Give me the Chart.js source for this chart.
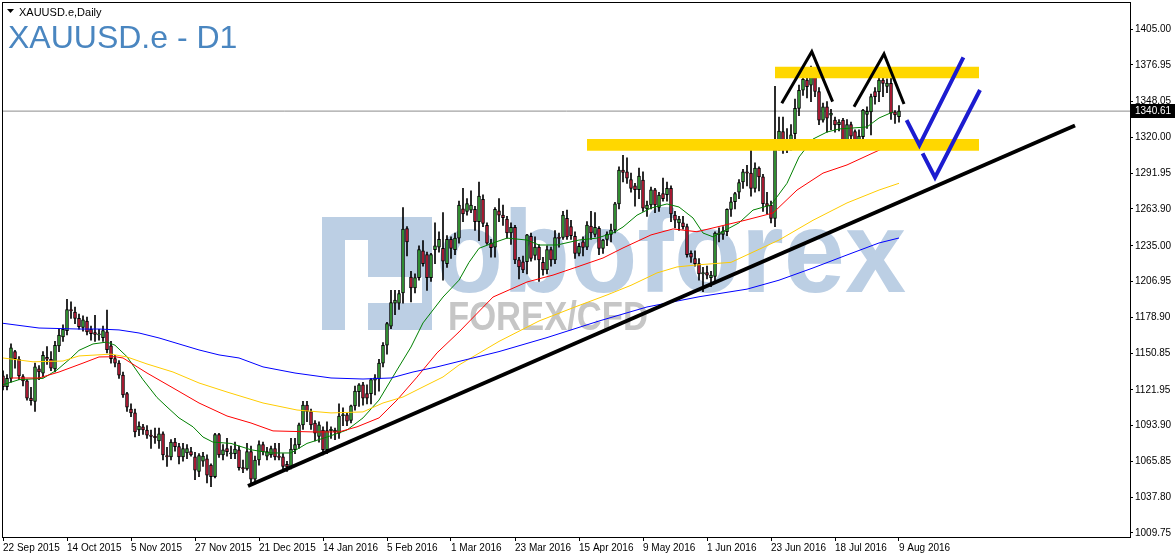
<!DOCTYPE html>
<html>
<head>
<meta charset="utf-8">
<title>XAUUSD.e - D1</title>
<script src="https://cdn.jsdelivr.net/npm/chart.js@4.4.1/dist/chart.umd.min.js"></script>
<style>
    html, body { margin: 0; padding: 0; background: #ffffff; }
    #wrap { position: relative; width: 1175px; height: 558px; }
</style>
</head>
<body>
<div id="wrap"><canvas id="goldChart" width="1175" height="558"></canvas></div>
<script>
// ==========================================
// 1. DATA
// ==========================================

// x-axis: one label every 16 bars, starting at bar 0
const dateTicks = ['22 Sep 2015', '14 Oct 2015', '5 Nov 2015', '27 Nov 2015', '21 Dec 2015', '14 Jan 2016',
    '5 Feb 2016', '1 Mar 2016', '23 Mar 2016', '15 Apr 2016', '9 May 2016', '1 Jun 2016',
    '23 Jun 2016', '18 Jul 2016', '9 Aug 2016'];
const barsPerTick = 16;

// y-axis tick labels
const priceTicks = [1009.75, 1037.80, 1065.85, 1093.90, 1121.95, 1150.85, 1178.90, 1206.95,
    1235.00, 1263.90, 1291.95, 1320.00, 1348.05, 1376.95, 1405.00];

// daily candles
const opens = [1133,1124.5,1131,1152,1146,1132.5,1129,1115.5,1113,1138.5,1135,1147.5,1146,1138.5,1156.5,1163.5,
    1168.5,1185,1183,1178,1171,1176,1169.5,1167,1165,1163,1167.5,1156.5,1146.5,1143,1133.5,1119,
    1107,1104,1090.5,1093,1090.5,1086.5,1085.5,1082,1087.5,1070.5,1069.5,1081,1077.5,1069.5,1072.5,1073.5,
    1069.5,1058,1066,1068,1063,1054,1087,1071,1076,1072,1072,1075,1061,1060,1073.5,1052,
    1067,1079,1070,1071,1076,1070,1069.5,1063.5,1061.5,1075,1079,1094.5,1110,1105,1096,1085.5,
    1090.5,1075,1090,1089,1088,1102,1102.5,1098,1109.5,1120.5,1126,1119,1119,1129.5,1130.5,1143,
    1157,1172,1190,1190,1198,1248.5,1210.5,1202,1210,1231,1228,1210,1232,1234,1233,1221,
    1240,1232,1241,1264,1262,1263,1263.5,1254,1271.5,1251,1237,1234,1262.5,1259,1256,1245,
    1249.5,1224,1222.5,1222.5,1242.5,1227.5,1234,1222,1216,1232,1224,1241.5,1241.5,1256.5,1250,1242.5,
    1229,1238,1234,1250.5,1244,1248.7,1233,1240,1244,1247.4,1267.8,1294.4,1293,1287,1282,1279,
    1286.6,1264,1267,1278.8,1265,1276,1275,1280,1259,1253,1253,1250,1229,1225,1221,1213,
    1214,1210,1211,1245,1244,1246,1263.5,1269.5,1277,1285,1293,1292,1280,1296,1289,1268,
    1267,1256.5,1318,1324.5,1313,1317,1323,1342.8,1357,1365,1361,1369,1356,1333.6,1344,1337.5,
    1333.6,1330,1333.6,1317,1330,1324.5,1316.6,1320.6,1338,1340,1355.9,1355.9,1365,1360,1362.4,1340,
    1336.2];
const highs = [1137,1134,1158,1153,1148,1134,1130,1124,1143,1141,1152,1156,1152,1160,1169.5,1173,
    1193,1191,1187,1181.5,1180,1179,1172,1180.5,1169.5,1172,1184.5,1160,1149,1145,1136,1120,
    1111,1107,1097,1095,1094,1090.5,1092,1092,1089,1077,1083,1084,1080,1080,1079,1077,
    1073,1072,1073,1071,1064,1088,1088,1079,1084,1078,1081,1078,1067,1080,1078,1070,
    1082,1081,1077,1078,1080,1080,1072,1066,1084,1084,1096,1113,1113,1107,1098,1097,
    1093,1097,1093,1092,1111,1108,1104,1110,1125,1127,1128,1126,1131,1134,1146,1159,
    1175,1200,1200,1200,1265,1250,1215,1213,1235,1239,1230,1229,1253,1246,1261,1243,
    1242,1245,1270,1280,1272,1278,1266,1285,1275,1253,1240,1265,1272,1267,1258,1253,
    1251,1226,1227,1244,1245,1242,1236,1226,1235,1234,1247,1245,1262,1263,1255,1246,
    1237,1242,1254,1262,1261,1250,1240,1246,1252,1269,1297,1306,1304,1292,1284,1296,
    1293,1270,1281,1280,1277,1288,1285,1282,1262,1258,1258,1252,1231,1231,1225,1218,
    1219,1215,1246,1249,1250,1264,1273,1277,1287,1295,1298,1316,1300,1297,1291,1277,
    1270,1360,1336,1336,1327,1330,1350,1361,1374,1368,1376,1372,1359,1347,1348,1342,
    1336,1334,1335,1334,1332,1326,1326,1342,1344,1354,1359,1369,1367,1366,1367,1341,
    1345];
const lows = [1122,1122,1128,1139,1130,1125,1114,1110,1105,1130,1132,1142,1137,1136,1152,1160,
    1165,1178,1174,1169.5,1168,1165,1161,1160,1161,1160,1151,1143,1140,1131,1116,1105,
    1101,1085,1086,1087,1084,1076,1080,1076,1067,1062,1067,1074,1064,1066,1068,1070,
    1051.5,1054,1062,1049,1046,1053,1069,1067,1070,1068,1068,1059,1057,1059,1047,1050,
    1063,1071,1067,1069,1067,1067,1060,1058,1060,1072,1076,1091,1097,1091,1082,1081,
    1071,1072,1084,1083,1084,1094,1094,1096,1106,1109,1110,1111,1111,1118,1121,1140,
    1150,1170,1181,1185,1190,1227,1191,1198,1208,1219,1200,1207,1221,1230,1208,1218,
    1225,1228,1237,1254,1259,1261,1247,1239,1250,1236,1226,1226,1254,1251,1241,1236,
    1221,1209,1214,1213,1223,1224,1207,1212,1213,1219,1221,1234,1240,1240,1240,1225,
    1227,1227,1232,1240,1242,1228,1229,1235,1238,1245,1264,1285,1284,1277,1266,1272,
    1262,1258,1264,1261,1262,1270,1270,1254,1249,1247,1248,1226,1222,1219,1208,1199,
    1209,1203,1206,1238,1240,1243,1258,1264,1272,1280,1282,1274,1277,1278,1262,1260,
    1253,1250,1310,1307.5,1308,1310,1319,1337,1353,1351,1348,1352,1330,1332,1324,1326,
    1324,1325,1311,1314,1314,1313,1313,1312,1327,1322,1346,1348,1352,1355,1334,1331,
    1332];
const closes = [1124.5,1131,1155,1146.5,1133,1129,1115.5,1113.5,1140,1136,1149,1146,1139,1157,1165,1169.5,
    1185,1184,1178,1171.5,1177,1167.5,1166,1165.5,1166,1168.5,1153.5,1146.5,1143,1133.5,1118,1108.5,
    1104,1089,1093.5,1090.5,1086.5,1085.5,1084.5,1087.5,1071,1069.5,1081,1077.5,1069.5,1076,1076,1071,
    1059,1070.5,1070,1055,1054,1087,1071,1075,1073.5,1072.5,1075.5,1061,1060,1073.5,1052,1067,
    1079,1073.5,1073.5,1076,1069.5,1069,1062,1061.5,1075.5,1079,1094.5,1110,1105,1094.5,1088,1094.5,
    1075,1090,1091,1090.5,1101.5,1102.5,1097.5,1109.5,1121,1126,1115.5,1115.5,1130,1131.5,1143,1157,
    1174,1190.5,1192.5,1197.5,1248,1238,1202,1210,1232,1221,1210,1228,1235,1240,1223,1240,
    1233,1241,1267,1260,1268,1267,1254,1274,1252.5,1237,1233.5,1263.5,1259,1257,1245,1249.5,
    1224,1218.5,1216,1243.5,1225,1234,1224,1216,1232,1224,1241.5,1241,1259,1242,1243,1229,
    1234.5,1233.8,1251.3,1245,1249.5,1233,1239.5,1244,1247.4,1267.8,1294.4,1292.6,1288,1280,1279,1289.7,
    1264.4,1267,1278.8,1267,1274.8,1272,1280,1260,1255,1256,1250,1228,1226,1221,1213,1214,
    1212,1212,1245,1244,1246.5,1263.5,1269.5,1276,1284.5,1293,1292,1280,1296,1289,1268,1266,
    1256.5,1316.5,1325,1312.7,1317,1322,1342.8,1357,1365.5,1359.8,1367.6,1356,1333.6,1344,1335,1339,
    1329.7,1332,1316.6,1330,1321,1316.6,1321,1341.5,1340.5,1352,1352,1365,1362.4,1362.5,1338.9,1337.6,
    1340.61];

// moving averages, as [bar, price]
const maFast = [[0,1126],[4,1130],[10,1131],[13.5,1137.6],[17,1147],[19,1153],[22.5,1158],[26,1159.5],[28,1157],
    [31,1148],[35,1130],[38.5,1116],[41,1108.6],[44,1100],[47.5,1093],[50,1085],[52.5,1081],[57,1080],[62,1075],
    [67,1072.5],[72,1072.5],[76,1080],[81,1085],[86,1090.5],[90,1100],[94,1114],[98.5,1137.6],[102,1155.6],
    [105,1174.5],[110,1194.8],[114,1208],[116.5,1222],[119,1233],[122.5,1237.2],[126,1241],[131,1239.5],
    [134,1235.6],[138.5,1235.6],[144,1239.5],[148.5,1241],[152.5,1245],[155,1249.7],[158.5,1259],[162,1264.6],
    [166,1267.8],[169,1265.4],[172.5,1256.8],[175,1245],[177.5,1242],[184,1253],[187.5,1263],[192,1267],
    [196,1284],[199,1304.6],[202.5,1318.7],[206,1324.2],[209,1326.6],[212.5,1327.4],[216,1328.2],[219,1335.2],
    [222.5,1340]];
const maMid = [[2,1131.3],[9,1131.3],[14,1136],[20,1143],[24,1147.8],[28,1148],[30,1147],[36,1135.2],
    [42.5,1123.5],[49,1111.7],[56,1101.5],[62,1096],[67.5,1089.8],[77.5,1089],[84,1089],[88.5,1093],[94,1100],
    [98.5,1114],[103.5,1132],[108.5,1151],[114,1167.4],[122.5,1194.8],[131,1206.6],[137.5,1212],[143.5,1218.4],
    [150,1225.4],[155,1233.3],[162,1243.5],[167.5,1248.2],[173.5,1246],[185.5,1255],[192.5,1260.7],
    [198.5,1278.7],[205,1292],[211,1298.4],[217.5,1307.8],[224,1317]];
const maSlow = [[0,1147],[7.5,1144],[15,1144.6],[19,1148.6],[27,1150],[31,1147.8],[36,1142.3],[42.5,1136],
    [49,1127.4],[56,1120.3],[65,1111.7],[73.5,1106.2],[82,1103.9],[90,1104.7],[95,1111.7],[100,1116.4],
    [105,1124.3],[110,1132.1],[114,1141.5],[124,1160],[134,1176],[143,1187],[151,1196.4],[157,1204],
    [163.5,1213.7],[168.5,1218.4],[173.5,1220],[182,1222],[194,1239.5],[202.5,1255],[211,1268.6],
    [219,1278.7],[224,1284]];
const maLong = [[0,1174.2],[9,1170.5],[19,1169.7],[24,1169.7],[29,1169],[34,1166.6],[39,1162.7],[44,1158],
    [49,1153.3],[54,1149.4],[59,1147],[65,1140],[73,1135.2],[82,1131.3],[90,1130.5],[97,1131.3],[102.5,1136],
    [108.5,1140],[113.5,1143.9],[124,1152],[136,1163],[149,1176],[161,1187],[174,1195],[186,1201],[194,1208],
    [202.5,1217.6],[211,1227.8],[219,1237.2],[224,1241.1]];

// hand-drawn analysis objects, as [bar, price]
const trendLine = [[61.25, 1046.6], [268, 1329.3]];
const topLeft = [[194.7, 1346.7], [202.2, 1387.2], [207.4, 1348]];
const topRight = [[212.75, 1344.1], [220.25, 1385.4], [225.25, 1346.2]];
const checkUpper = [[225.9, 1333.6], [229.1, 1314], [240.1, 1382.8]];
const checkLower = [[229.9, 1307.5], [233, 1288.7], [244.25, 1357.2]];
// zones: [first bar, last bar, low, high]
const resistanceZone = [193, 244, 1366.3, 1375.4];
const supportZone = [146, 244, 1309.6, 1318.7];

const lastPrice = 1340.61;
const barsOnScreen = 281.75;

// ==========================================
// 2. HELPERS / PLUGINS
// ==========================================
const FONT = '"Liberation Sans", Arial, sans-serif';
const toPoints = arr => arr.map(p => ({ x: p[0], y: p[1] }));

function lineSet(points, color, width, order) {
    return {
        type: 'line', data: toPoints(points), borderColor: color, borderWidth: width,
        pointRadius: 0, fill: false, order: order, borderCapStyle: 'butt', borderJoinStyle: 'miter'
    };
}

function zoneSets(zone) {
    const top = [[zone[0], zone[3]], [zone[1], zone[3]]];
    const bottom = [[zone[0], zone[2]], [zone[1], zone[2]]];
    return [
        { type: 'line', data: toPoints(top), borderWidth: 0, pointRadius: 0, fill: false, order: 3 },
        { type: 'line', data: toPoints(bottom), borderWidth: 0, pointRadius: 0, fill: '-1',
          backgroundColor: '#ffd700', order: 3 }
    ];
}

const watermarkPlugin = {
    id: 'watermark',
    beforeDatasetsDraw(chart) {
        const ctx = chart.ctx;
        ctx.save();
        ctx.fillStyle = '#bccfe4';
        // logo block with the letter cut out
        ctx.fillRect(322, 217, 110, 113);
        ctx.fillStyle = '#ffffff';
        ctx.fillRect(345, 240, 23, 90);
        ctx.fillRect(368, 277, 54, 26);
        ctx.fillStyle = '#bccfe4';
        ctx.font = 'bold 116px ' + FONT;
        ctx.textBaseline = 'alphabetic';
        ctx.fillText('oboforex', 436, 292, 470);
        ctx.fillStyle = '#c6c6c6';
        ctx.font = 'bold 40px ' + FONT;
        ctx.fillText('FOREX/CFD', 448, 330, 200);
        ctx.restore();
    }
};

const framePlugin = {
    id: 'frame',
    afterDraw(chart) {
        const { ctx, chartArea, scales } = chart;
        ctx.save();
        // frame
        ctx.strokeStyle = '#000000';
        ctx.lineWidth = 1;
        ctx.strokeRect(chartArea.left - 0.5, chartArea.top - 0.5,
            chartArea.right - chartArea.left + 1, chartArea.bottom - chartArea.top + 1);

        // titles
        ctx.fillStyle = '#000000';
        ctx.beginPath();
        ctx.moveTo(7, 9); ctx.lineTo(14, 9); ctx.lineTo(10.5, 13); ctx.closePath();
        ctx.fill();
        ctx.font = '11px ' + FONT;
        ctx.textBaseline = 'alphabetic';
        ctx.fillText('XAUUSD.e,Daily', 19, 16);
        ctx.fillStyle = '#4a86c0';
        ctx.font = '32px ' + FONT;
        ctx.fillText('XAUUSD.e - D1', 8, 48);

        // last price tag
        const y = Math.round(scales.y.getPixelForValue(lastPrice));
        ctx.fillStyle = '#000000';
        ctx.fillRect(chartArea.right + 1, y - 7, 44, 14);
        ctx.fillStyle = '#ffffff';
        ctx.font = '10px ' + FONT;
        ctx.textBaseline = 'middle';
        ctx.fillText(lastPrice.toFixed(2), chartArea.right + 5, y + 0.5);
        ctx.restore();
    }
};

// ==========================================
// 3. CHART
// ==========================================
const wickData = highs.map((h, i) => ({ x: i, y: [lows[i], h] }));
const bodyData = opens.map((o, i) => {
    const c = closes[i];
    if (Math.abs(c - o) < 0.8) {
        const m = (c + o) / 2;
        return { x: i, y: [m - 0.4, m + 0.4] };
    }
    return { x: i, y: [o, c] };
});
const bodyColors = opens.map((o, i) => closes[i] >= o ? '#3aa83a' : '#c41e3a');

const ctx = document.getElementById('goldChart').getContext('2d');
new Chart(ctx, {
    type: 'bar',
    data: {
        datasets: [
            lineSet([[0, lastPrice], [barsOnScreen, lastPrice]], '#8c8c8c', 1, 9),
            { type: 'bar', data: wickData, backgroundColor: '#000000', barThickness: 1, grouped: false, order: 8 },
            { type: 'bar', data: bodyData, backgroundColor: bodyColors, borderColor: '#000000', borderWidth: 1,
              borderSkipped: false, barThickness: 3, grouped: false, order: 7 },
            lineSet(maLong, '#0000ff', 1, 6),
            lineSet(maSlow, '#ffcc00', 1, 6),
            lineSet(maMid, '#ff0000', 1, 6),
            lineSet(maFast, '#008000', 1, 6),
            ...zoneSets(resistanceZone),
            ...zoneSets(supportZone),
            lineSet(trendLine, '#000000', 4, 2),
            lineSet(topLeft, '#000000', 3, 1),
            lineSet(topRight, '#000000', 3, 1),
            lineSet(checkUpper, '#1c1cd0', 4, 1),
            lineSet(checkLower, '#1c1cd0', 4, 1)
        ]
    },
    options: {
        responsive: false,
        animation: false,
        devicePixelRatio: 1,
        layout: { padding: { left: 3, top: 3, right: 0, bottom: 0 } },
        plugins: { legend: { display: false }, tooltip: { enabled: false } },
        scales: {
            x: {
                type: 'linear',
                min: 0,
                max: barsOnScreen,
                offset: false,
                afterFit: s => { s.height = 21; s.paddingLeft = 0; s.paddingRight = 0; },
                afterBuildTicks: s => { s.ticks = dateTicks.map((_, k) => ({ value: k * barsPerTick })); },
                grid: { drawOnChartArea: false, drawTicks: true, tickLength: 4, color: '#000000', offset: false },
                border: { display: true, color: '#000000' },
                ticks: {
                    autoSkip: false, maxRotation: 0, align: 'start', padding: 1, color: '#000000',
                    font: { family: FONT, size: 10 },
                    callback: v => dateTicks[Math.round(v / barsPerTick)] || ''
                }
            },
            y: {
                type: 'linear',
                position: 'right',
                min: 1006.6,
                max: 1425.4,
                afterFit: s => { s.width = 45; s.paddingTop = 0; s.paddingBottom = 0; },
                afterBuildTicks: s => { s.ticks = priceTicks.map(v => ({ value: v })); },
                grid: { drawOnChartArea: false, drawTicks: true, tickLength: 3, color: '#000000' },
                border: { display: true, color: '#000000' },
                ticks: {
                    padding: 2, color: '#000000', font: { family: FONT, size: 10 },
                    callback: v => v.toFixed(2)
                }
            }
        }
    },
    plugins: [watermarkPlugin, framePlugin]
});
</script>
</body>
</html>
